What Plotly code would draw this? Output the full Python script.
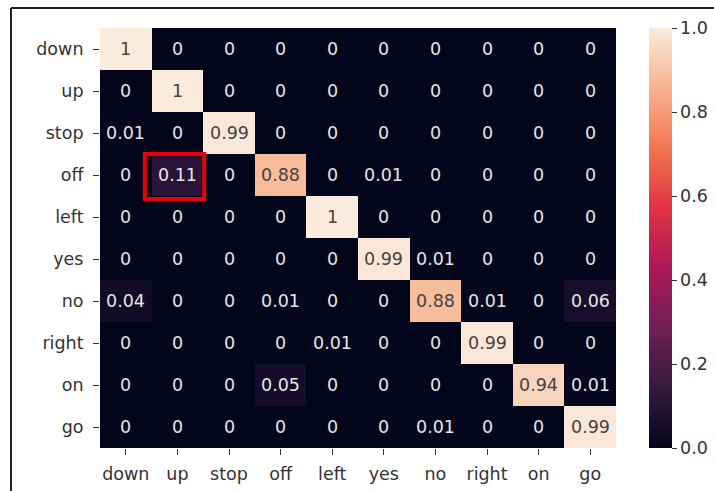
import plotly.graph_objects as go

# Keyword classes (rows = true label, columns = predicted label)
labels = ["down", "up", "stop", "off", "left", "yes", "no", "right", "on", "go"]

row_down = [1, 0, 0, 0, 0, 0, 0, 0, 0, 0]
row_up = [0, 1, 0, 0, 0, 0, 0, 0, 0, 0]
row_stop = [0.01, 0, 0.99, 0, 0, 0, 0, 0, 0, 0]
row_off = [0, 0.11, 0, 0.88, 0, 0.01, 0, 0, 0, 0]
row_left = [0, 0, 0, 0, 1, 0, 0, 0, 0, 0]
row_yes = [0, 0, 0, 0, 0, 0.99, 0.01, 0, 0, 0]
row_no = [0.04, 0, 0, 0.01, 0, 0, 0.88, 0.01, 0, 0.06]
row_right = [0, 0, 0, 0, 0.01, 0, 0, 0.99, 0, 0]
row_on = [0, 0, 0, 0.05, 0, 0, 0, 0, 0.94, 0.01]
row_go = [0, 0, 0, 0, 0, 0, 0.01, 0, 0, 0.99]

matrix = [row_down, row_up, row_stop, row_off, row_left,
          row_yes, row_no, row_right, row_on, row_go]

# highlighted cell: true "off", predicted "up"
highlight_row = "off"
highlight_col = "up"

rocket = [
    [0.0, "#03051a"],
    [0.07, "#1b0f2e"],
    [1 / 7, "#35193e"],
    [2 / 7, "#701f57"],
    [3 / 7, "#ad1759"],
    [4 / 7, "#e13342"],
    [5 / 7, "#f37651"],
    [6 / 7, "#f6b48f"],
    [1.0, "#faebdd"],
]

FONT = "DejaVu Sans"
FS = 17.5
n = len(labels)

fig = go.Figure(
    go.Heatmap(
        z=matrix,
        x=list(range(n)),
        y=list(range(n)),
        colorscale=rocket,
        zmin=0,
        zmax=1,
        hoverinfo="skip",
        colorbar=dict(
            x=(649 - 100) / 516,
            xanchor="left",
            xpad=0,
            y=0.5,
            yanchor="middle",
            len=1.0,
            lenmode="fraction",
            ypad=0,
            thickness=23,
            thicknessmode="pixels",
            outlinewidth=0,
            ticks="outside",
            ticklen=5,
            tickwidth=1,
            tickcolor="#333",
            tickvals=[0, 0.2, 0.4, 0.6, 0.8, 1.0],
            ticktext=["0.0", "0.2", "0.4", "0.6", "0.8", "1.0"],
            tickfont=dict(family=FONT, size=FS, color="#333"),
        ),
    )
)

# cell annotations
for i, row in enumerate(matrix):
    for j, v in enumerate(row):
        fig.add_annotation(
            x=j, y=i, text=format(v, ".2g"), showarrow=False,
            font=dict(family=FONT, size=FS,
                      color="#444444" if v > 0.5 else "#e6e6e6"),
        )

# red box around the highlighted cell
hr = labels.index(highlight_row)
hc = labels.index(highlight_col)
fig.add_shape(
    type="rect", xref="x", yref="y",
    x0=hc - 0.63, x1=hc + 0.52, y0=hr - 0.5, y1=hr + 0.57,
    line=dict(color="#e8000b", width=4),
)

# outer frame
fig.add_shape(type="line", xref="paper", yref="paper",
              x0=(11 - 100) / 516, x1=(714 - 100) / 516,
              y0=(448 - 8) / 420, y1=(448 - 8) / 420,
              line=dict(color="#222", width=2))
fig.add_shape(type="line", xref="paper", yref="paper",
              x0=(11 - 100) / 516, x1=(11 - 100) / 516,
              y0=(448 - 8) / 420, y1=(448 - 495) / 420,
              line=dict(color="#222", width=2))

fig.update_xaxes(
    tickvals=list(range(n)), ticktext=labels,
    ticks="outside", ticklen=6, tickcolor="#333",
    ticklabelstandoff=4,
    showgrid=False, zeroline=False, showline=False,
    range=[-0.5, n - 0.5],
    tickfont=dict(family=FONT, size=FS, color="#333"),
)
fig.update_yaxes(
    tickvals=list(range(n)), ticktext=labels,
    ticks="outside", ticklen=6, tickcolor="#333",
    ticklabelstandoff=6,
    showgrid=False, zeroline=False, showline=False,
    range=[n - 0.5, -0.5],
    tickfont=dict(family=FONT, size=FS, color="#333"),
)

fig.update_layout(
    width=714,
    height=491,
    margin=dict(l=100, r=98, t=28, b=43, autoexpand=False),
    paper_bgcolor="white",
    plot_bgcolor="white",
    font=dict(family=FONT),
)

fig.write_html("out.html")
